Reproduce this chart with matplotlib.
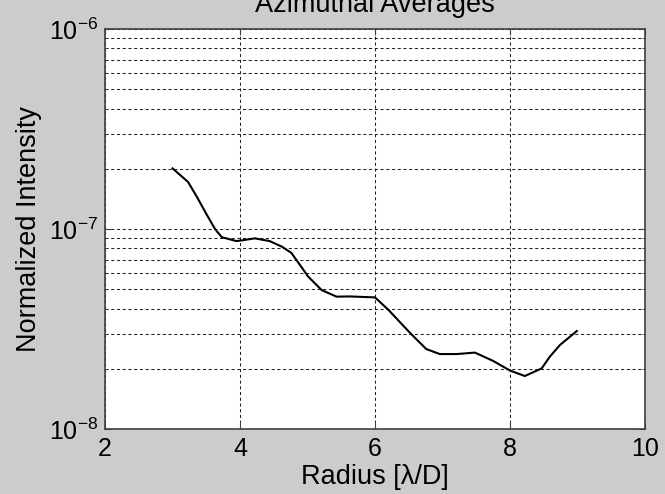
import numpy as np
import matplotlib
matplotlib.use("Agg")
import matplotlib.pyplot as plt
from matplotlib.ticker import LogLocator, FuncFormatter

# azimuthal average
radius = [3.0, 3.23, 3.36, 3.51, 3.63, 3.73, 3.95, 4.05, 4.22, 4.44, 4.62,
          4.76, 4.89, 5.01, 5.21, 5.43, 5.63, 6.0, 6.2, 6.52, 6.76, 6.96,
          7.21, 7.48, 7.75, 8.0, 8.22, 8.47, 8.59, 8.74, 8.99]
intensity = [2.01, 1.72, 1.45, 1.175, 1.0, 0.91, 0.87, 0.88, 0.898, 0.87, 0.816,
             0.76, 0.66, 0.578, 0.495, 0.459, 0.46, 0.455, 0.394, 0.302, 0.251, 0.237,
             0.237, 0.241, 0.219, 0.196, 0.184, 0.201, 0.23, 0.263, 0.309]
intensity = np.array(intensity) * 1e-7

xticks = [2, 4, 6, 8, 10]

plt.rcParams['font.family'] = ['Liberation Sans', 'DejaVu Sans']
plt.rcParams['mathtext.default'] = 'regular'
plt.rcParams['axes.unicode_minus'] = False

fig = plt.figure(figsize=(6.65, 4.94), dpi=100, facecolor='#cccccc')
ax = fig.add_axes([105/665, 65/494, 540/665, 400/494])
ax.set_facecolor('white')

ax.plot(radius, intensity, color='black', lw=1.5)

ax.set_yscale('log')
ax.set_xlim(2, 10)
ax.set_ylim(1e-8, 1e-6)
ax.set_xticks(xticks)
ax.yaxis.set_major_locator(LogLocator(base=10, numticks=5))
ax.yaxis.set_minor_locator(LogLocator(base=10, subs=np.arange(2, 10), numticks=20))
ax.yaxis.set_major_formatter(FuncFormatter(lambda v, p: '10$^{%d}$' % round(np.log10(v))))
ax.yaxis.set_minor_formatter(FuncFormatter(lambda v, p: ''))

gstyle = dict(color='#222222', lw=0.75, linestyle=(0, (3, 2.5)))
ax.grid(True, which='major', axis='x', **gstyle)
ax.grid(True, which='both', axis='y', **gstyle)

for s in ax.spines.values():
    s.set_color('#404040')
    s.set_linewidth(1.2)

ax.tick_params(which='both', direction='in', top=True, right=True,
               labelsize=18, colors='#404040', labelcolor='black')
ax.tick_params(which='major', length=4)
ax.tick_params(axis='x', which='major', pad=6)
ax.tick_params(axis='y', which='major', pad=5)
ax.tick_params(which='minor', length=2)

ax.set_title('Azimuthal Averages', fontsize=19.5, pad=12)
ax.set_xlabel('Radius [λ/D]', fontsize=19.5)
ax.set_ylabel('Normalized Intensity', fontsize=19.5)
ax.xaxis.set_label_coords(0.5, -0.088)
ax.yaxis.set_label_coords(-0.117, 0.5)

fig.savefig('out.png', dpi=100, facecolor=fig.get_facecolor())
